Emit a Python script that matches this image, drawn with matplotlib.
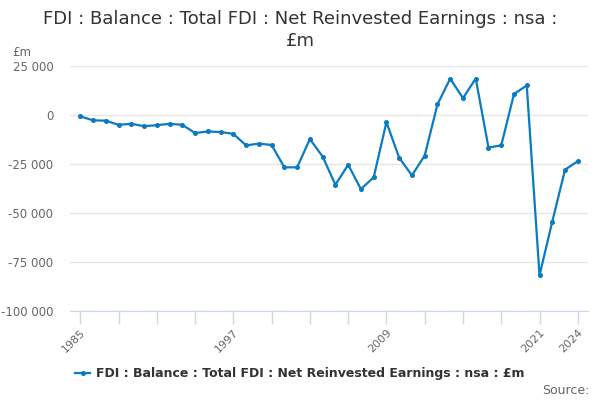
import numpy as np
import matplotlib
matplotlib.use("Agg")
import matplotlib.pyplot as plt
from matplotlib.ticker import FuncFormatter, FixedLocator

years = list(range(1985, 2025))
earnings = [-700, -2700, -2900, -5000, -4500, -5700, -5200, -4500, -5000, -9200,
            -8400, -8700, -9600, -15500, -14600, -15300, -26700, -26700, -12300, -21200,
            -35600, -25400, -37800, -31800, -3700, -21800, -30800, -20700, 5400, 18600,
            8600, 18600, -16600, -15500, 10700, 15100, -81800, -54400, -27900, -23600]

tick_years = list(range(1985, 2022, 3)) + [2024]
label_years = [1985, 1997, 2009, 2021, 2024]
series_name = "FDI : Balance : Total FDI : Net Reinvested Earnings : nsa : £m"

blue = '#0b7bc1'
grey = '#666666'

fig = plt.figure(figsize=(6, 4), dpi=100)
ax = fig.add_axes([0.1167, 0.2225, 0.8633, 0.6125])

ax.plot(years, earnings, color=blue, lw=1.6, marker='o', ms=2.6, label=series_name)

ax.set_ylim(-100000, 25000)
ax.set_xlim(1984.2, 2024.8)
ax.set_yticks(range(-100000, 25001, 25000))
ax.yaxis.set_major_formatter(FuncFormatter(lambda v, p: f"{int(v):,}".replace(",", " ")))
ax.grid(axis='y', color='#e6e6e6', lw=1)
ax.set_axisbelow(True)

ax.xaxis.set_major_locator(FixedLocator(tick_years))
ax.set_xticklabels([str(y) if y in label_years else '' for y in tick_years],
                   rotation=45, ha='right', rotation_mode='anchor')
ax.tick_params(axis='x', colors='#ccd6eb', length=9, width=1, labelcolor=grey, labelsize=8, pad=3)
ax.tick_params(axis='y', length=0, labelcolor=grey, labelsize=8.5, pad=12)

for s in ['top', 'right', 'left']:
    ax.spines[s].set_visible(False)
ax.spines['bottom'].set_color('#ccd6eb')

fig.text(0.5, 0.953, "FDI : Balance : Total FDI : Net Reinvested Earnings : nsa :",
         ha='center', va='center', fontsize=13, color='#333333')
fig.text(0.5, 0.898, "£m", ha='center', va='center', fontsize=13, color='#333333')
fig.text(0.02, 0.87, "£m", fontsize=8.5, color=grey, va='center')

leg = fig.legend(loc='center', bbox_to_anchor=(0.5, 0.065), frameon=False,
                 handlelength=1.2, fontsize=9, handletextpad=0.5)
for t in leg.get_texts():
    t.set_color('#333333')
    t.set_fontweight('bold')

fig.text(0.982, 0.025, "Source:", ha='right', va='center', fontsize=9, color=grey)

fig.savefig("out.png", dpi=100)
